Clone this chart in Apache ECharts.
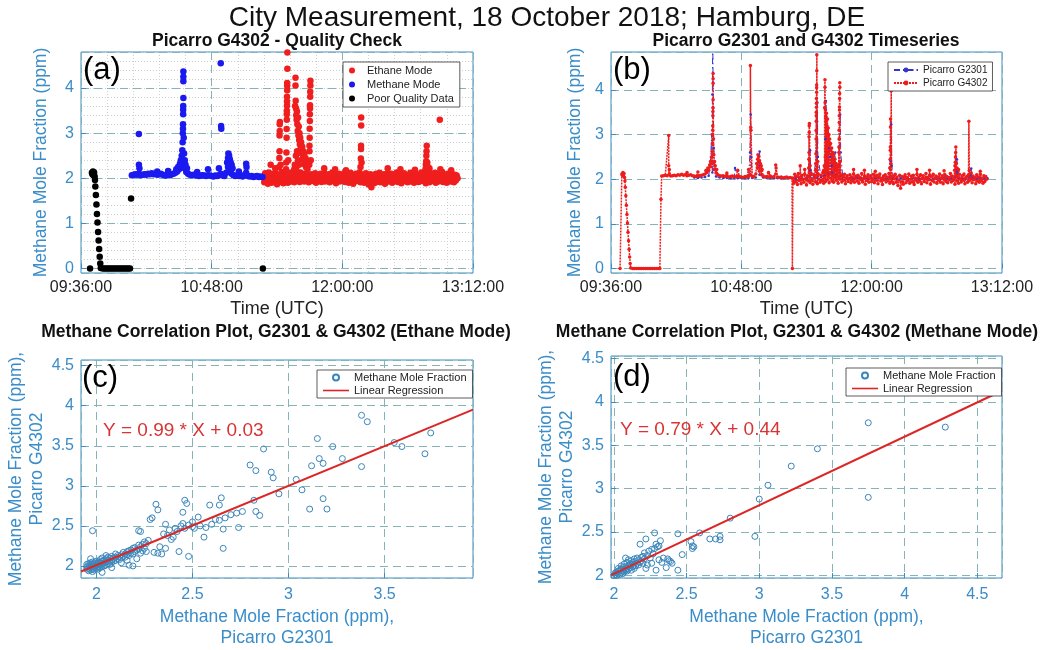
<!DOCTYPE html>
<html><head><meta charset="utf-8">
<script src="https://cdn.jsdelivr.net/npm/echarts@6/dist/echarts.min.js"></script>
<style>html,body{margin:0;padding:0;background:#fff}#c{width:1044px;height:650px}</style>
</head><body><div id="c"></div>
<script>
// ---------- DATA (time = minutes after 00:00 UTC) ----------
const timeTicks = [576, 648, 720, 792]; // 09:36, 10:48, 12:00, 13:12

// (a) poor-quality data points [time, ppm]
const poorPts = [[581.0,0.00],[582.0,2.12],[582.3,2.09],[582.6,2.15],[582.9,2.07],[583.2,2.13],[583.5,2.04],[583.7,1.96],
 [583.9,1.82],[584.2,1.63],[584.5,1.42],[584.8,1.21],[585.1,1.02],[585.4,0.81],[585.7,0.62],[586.0,0.43],[586.3,0.26],
 [586.6,0.11],[586.9,0.01],[588,0],[589,0],[590,0],[591,0],[592,0],[593,0],[594,0],[595,0],[596,0],[597,0],[598,0],
 [599,0],[600,0],[601,0],[602,0],[603,0],[603.6,1.55],[676.2,0.00]];

// (a) methane-mode baseline, one sample per minute from 604
const methaneStart = 604, methaneStep = 1;
const methaneV = [2.07,2.08,2.09,2.08,2.10,2.07,2.08,2.09,2.08,2.10,2.09,2.11,2.09,2.10,2.08,2.09,2.10,2.08,2.07,2.06,
 2.08,2.07,2.09,2.10,2.12,2.15,2.20,2.28,2.35,2.22,2.14,2.10,2.08,2.07,2.08,2.06,2.07,2.05,2.06,2.07,
 2.06,2.05,2.07,2.06,2.05,2.04,2.06,2.05,2.07,2.10,2.06,2.05,2.12,2.25,2.18,2.10,2.07,2.05,2.06,2.05,
 2.07,2.04,2.06,2.12,2.05,2.04,2.05,2.03,2.04,2.05,2.03,2.04,2.03];
const methaneSpikes = [[607.9,2.98],[607.9,2.30],[608.2,2.22],[618,2.15],[624,2.16],[628.5,2.20],[629.5,2.25],[630.5,2.32],
 [631,2.40],[631.5,2.50],[631.8,2.62],[632,2.80],[632.1,3.00],[632.2,3.10],[632.2,3.20],[632.3,3.42],[632.3,3.52],[632.3,3.60],
 [632.4,3.78],[632.4,4.15],[632.4,4.25],[632.4,4.37],[632.6,2.90],[632.8,2.55],[633.2,2.40],[633.6,2.30],[634.4,2.22],
 [640,2.14],[646,2.20],[652,2.22],[653,4.55],[653.2,3.16],[653.3,3.10],[656.5,2.35],[657,2.45],[657.2,2.55],[657.6,2.50],
 [658,2.42],[658.5,2.35],[659,2.30],[659.5,2.22],[663,2.15],[667,2.32],[667.2,2.25]];

// (a) ethane-mode baseline, one sample per half minute from 676.5
const ethaneStart = 676.5, ethaneStep = 0.5;
const ethaneV = [
 2.02,1.91,2.11,1.95,2.06,1.88,2.13,1.97,2.04,1.90,2.09,1.99,1.93,2.12,2.01,1.87,2.08,1.96,
 2.05,1.92,2.14,1.98,1.89,2.10,2.03,1.94,2.07,1.90,2.12,2.00,1.93,2.09,1.97,2.15,1.91,2.04,
 1.95,2.11,1.99,2.06,1.92,2.13,2.02,1.96,2.08,1.93,2.10,2.04,1.98,2.07,1.91,2.05,2.00,2.09,
 1.94,2.06,1.98,2.11,1.90,2.03,2.08,1.95,2.01,2.10,1.92,2.05,1.97,2.12,1.93,2.02,2.07,1.96,
 2.09,1.91,2.04,1.99,2.13,1.94,2.01,2.07,1.89,2.05,1.97,2.10,1.93,2.03,2.08,1.95,2.00,2.11,
 1.92,2.06,1.98,2.09,1.90,2.04,2.12,1.96,2.02,1.88,2.07,1.99,2.10,1.94,2.05,1.97,2.13,1.91,
 2.03,1.95,2.08,1.90,2.01,2.11,1.93,2.05,1.86,1.98,2.09,1.80,1.94,2.06,1.89,2.02,2.10,1.92,
 2.04,1.97,2.12,1.91,2.00,2.07,1.94,2.09,1.88,2.03,1.98,2.11,1.93,2.05,1.96,2.10,1.90,2.02,
 2.08,1.95,2.01,2.13,1.92,2.04,1.99,2.09,1.89,2.06,1.97,2.11,1.94,2.02,2.07,1.91,2.05,1.98,
 2.12,1.93,2.03,2.08,1.90,2.00,2.10,1.95,2.06,1.92,2.04,1.99,2.13,1.94,2.07,1.97,2.02,1.89,
 2.09,1.96,2.05,1.91,2.11,2.00,1.94,2.08,1.98,2.12,1.90,2.03,2.06,1.93,2.10,1.97,2.01,2.14,
 1.92,2.07,1.99,2.04,1.90,2.10,1.96,2.05,1.93,2.11,1.98,2.02,1.91,2.08,1.95,2.06,2.00];
const ethaneSpikes = [[680.5,2.30],[683,2.22],
 [685.2,2.25],[685.3,2.45],[685.4,2.60],[685.4,2.95],[685.5,3.05],[685.5,3.20],[685.6,3.25],[686,2.30],
 [689.0,2.20],[689.1,2.35],[689.2,2.57],[689.3,2.90],[689.3,3.09],[689.4,3.30],[689.4,3.42],[689.4,3.50],[689.5,3.61],
 [689.5,3.70],[689.5,3.81],[689.6,3.95],[689.6,4.05],[689.6,4.11],[689.7,4.43],[689.7,4.79],[690.2,2.40],
 [693.5,2.20],[693.8,2.30],[694.0,3.60],[694.2,4.23],[694.2,4.06],[694.3,3.72],[694.4,2.50],[694.5,3.55],[694.6,3.40],[694.6,2.20],
 [694.8,3.30],[695.0,3.48],[695.0,2.60],[695.2,3.20],[695.4,3.05],[695.6,3.35],[695.6,2.40],[695.8,2.95],[696.0,3.15],
 [696.2,2.85],[696.2,2.30],[696.4,3.00],[696.6,2.75],[696.8,2.90],[697.0,2.65],[697.3,2.80],[697.6,2.55],[697.9,2.70],
 [698.2,2.45],[698.5,2.60],[698.8,2.40],[699.1,2.55],[699.4,2.30],[699.7,2.45],[700.0,2.25],[700.4,2.35],[700.8,2.20],[701.2,2.30],
 [701.8,2.30],[701.9,2.60],[701.9,2.72],[702.0,2.90],[702.0,3.10],[702.1,3.27],[702.1,3.42],[702.2,3.55],[702.2,3.62],
 [702.3,3.81],[702.3,3.92],[702.4,4.06],[702.4,4.16],[702.6,2.40],
 [710,2.22],[716,2.20],[722,2.18],
 [730.0,2.25],[730.2,2.44],[730.3,2.65],[730.3,2.72],[730.4,3.17],[730.4,3.35],[730.6,2.35],
 [745,2.22],[752,2.20],[760,2.19],
 [765.8,2.20],[766.0,2.30],[766.2,2.38],[766.3,2.50],[766.4,2.60],[766.5,2.72],[766.8,2.35],[767.2,2.25],[768,2.22],
 [773.7,3.30],[774,2.20],[780,2.18]];

// (b) extra G4302 point seen only in the time series
const g4302Extra = [[730.8,3.98]];
// (b) Picarro G2301, one sample per 2 minutes from 622, plus peaks
const g2301Start = 622, g2301Step = 2;
const g2301V = [2.04,2.03,2.04,2.05,2.08,2.15,2.06,2.04,2.03,2.03,2.02,2.03,2.02,2.03,2.02,2.03,2.03,2.04,2.10,2.04,
 2.03,2.02,2.03,2.02,2.02,2.02,2.03,2.02,
 2.02,2.03,2.01,2.02,2.05,2.04,2.03,2.05,2.08,2.12,2.15,2.10,2.06,2.04,2.02,2.03,2.01,2.02,2.03,2.02,
 2.01,2.02,2.03,2.02,2.01,2.02,2.03,2.02,2.01,2.02,2.00,2.01,2.02,2.01,2.02,2.01,2.02,2.00,2.01,2.02,
 2.01,2.02,2.01,2.02,2.04,2.02,2.01,2.02,2.03,2.02,2.01,2.02,2.01,2.02];
const g2301Spikes = [[631,2.40],[631.6,3.00],[632.0,3.90],[632.2,5.30],[632.5,3.60],[632.8,2.70],[633.3,2.30],
 [644.5,2.25],[652.8,2.60],[653.2,3.45],[653.5,2.50],[657.8,2.40],[658.1,2.62],[658.6,2.30],
 [685.8,2.30],[686.0,2.65],[686.3,2.20],[689.6,2.60],[689.8,3.30],[690.0,3.72],[690.3,2.50],
 [694.4,2.90],[694.7,3.75],[695.0,3.40],[695.4,3.20],[695.9,2.95],[696.5,2.70],[697.2,2.50],[698,2.30],
 [699.9,2.60],[702.2,2.90],[702.6,3.45],[702.9,2.60],[730.6,2.40],[730.8,3.23],[731.1,2.30],
 [766.8,2.20],[767.1,2.45],[767.4,2.15],[774.8,2.10],[775.0,2.24],[775.3,2.05]];

// (c) ethane-mode correlation: G2301 (x) vs G4302 (y)
const cG2301 = [1.95,1.95,1.95,1.96,1.96,1.96,1.96,1.97,1.97,1.97,1.97,1.98,1.98,1.98,1.98,1.98,1.99,1.99,1.99,1.99,
 2.00,2.00,2.00,2.00,2.01,2.01,2.01,2.01,2.02,2.02,2.02,2.02,2.03,2.03,2.03,2.03,2.04,2.04,2.04,2.05,2.05,2.05,2.05,
 2.06,2.06,2.06,2.07,2.07,2.07,2.08,2.08,2.08,2.09,2.09,2.10,2.10,2.10,2.11,2.11,2.12,2.12,2.13,2.13,2.14,2.14,2.15,2.15,
 2.16,2.16,2.17,2.17,2.18,2.18,2.19,2.19,2.20,2.20,2.21,2.21,2.22,2.22,2.23,2.23,2.24,2.24,2.25,2.25,2.26,2.26,
 2.03,1.97,2.17,2.19,2.13,2.16,2.08,1.98,
 2.22,2.23,2.27,2.28,2.29,2.30,2.31,2.32,2.32,2.33,2.34,2.35,2.36,2.36,2.37,2.38,2.39,2.40,2.41,2.42,2.43,2.44,2.45,2.45,
 2.46,2.46,2.47,2.48,2.48,2.50,2.50,2.51,2.53,2.54,2.56,2.57,2.59,2.60,2.62,2.64,2.64,2.65,2.66,2.66,2.67,2.70,2.73,2.74,2.76,
 2.80,2.82,2.83,2.83,2.85,2.87,2.91,2.92,2.95,3.04,3.07,3.11,3.12,3.15,3.16,3.18,3.18,3.20,3.23,3.28,3.38,3.38,3.41,
 3.55,3.59,3.71,3.74];
const cG4302 = [1.96,1.99,2.02,1.94,1.97,2.00,2.03,1.95,1.98,2.01,2.04,1.93,1.96,1.99,2.02,2.05,1.95,1.98,2.01,2.04,
 1.97,2.00,2.03,2.06,1.96,1.99,2.02,2.05,1.98,2.01,2.04,2.08,1.99,2.02,2.06,2.10,2.00,2.04,2.07,2.01,2.05,2.09,2.13,
 2.03,2.07,2.11,2.02,2.06,2.10,2.05,2.08,2.12,2.06,2.10,2.07,2.11,2.15,2.09,2.13,2.08,2.12,2.10,2.14,2.12,2.17,2.11,2.15,
 2.14,2.18,2.13,2.19,2.16,2.20,2.15,2.22,2.18,2.23,2.20,2.09,2.21,2.26,2.24,2.16,2.27,2.19,2.22,2.30,2.28,2.18,
 1.92,2.09,2.01,2.00,2.04,2.07,1.98,2.44,
 2.44,2.43,2.32,2.58,2.60,2.17,2.77,2.70,2.16,2.24,2.15,2.40,2.22,2.52,2.38,2.45,2.33,2.36,2.47,2.43,2.18,2.50,2.67,2.53,
 2.82,2.47,2.78,2.12,2.51,2.49,2.55,2.47,2.61,2.50,2.36,2.48,2.76,2.52,2.58,2.76,2.57,2.85,2.22,2.46,2.60,2.64,2.66,2.48,2.68,
 3.26,2.82,3.19,2.68,2.63,3.46,3.17,3.10,2.90,3.08,2.95,2.71,3.25,3.59,3.34,3.28,2.84,2.71,3.49,3.34,3.24,3.88,3.80,
 3.54,3.49,3.40,3.66];

// (d) methane-mode correlation: G2301 (x) vs G4302 (y)
const dG2301 = [2.00,2.01,2.01,2.02,2.02,2.03,2.03,2.03,2.04,2.04,2.05,2.05,2.05,2.06,2.06,2.06,2.07,2.07,2.07,2.08,2.08,2.08,
 2.09,2.09,2.09,2.10,2.10,2.10,2.11,2.11,2.12,2.12,2.12,2.13,2.13,2.14,2.14,2.14,2.15,2.15,2.16,2.16,2.17,2.17,2.18,2.18,
 2.19,2.19,2.20,2.20,2.21,2.21,2.22,2.22,2.23,2.23,2.24,2.25,2.26,2.26,2.27,2.28,2.28,2.29,2.29,2.30,2.31,2.31,2.32,2.33,
 2.34,2.36,2.37,2.38,2.39,2.40,2.44,2.44,2.47,
 2.53,2.54,2.54,2.55,2.59,2.66,2.70,2.73,2.73,2.80,2.97,3.00,3.06,3.22,3.40,3.75,3.75,4.28];
const dG4302 = [2.00,2.01,2.03,2.00,2.04,2.02,2.05,2.08,2.01,2.06,2.03,2.07,2.11,2.02,2.05,2.09,2.04,2.07,2.13,2.06,2.10,2.20,
 2.05,2.08,2.15,2.07,2.11,2.18,2.09,2.13,2.06,2.12,2.17,2.10,2.15,2.08,2.13,2.19,2.11,2.16,2.14,2.20,2.12,2.18,2.15,2.36,
 2.17,2.21,2.14,2.22,2.19,2.26,2.42,2.08,2.23,2.12,2.28,2.20,2.30,2.14,2.25,2.49,2.31,2.06,2.36,2.33,2.18,2.34,2.40,2.15,
 2.20,2.09,2.19,2.17,2.16,2.14,2.06,2.48,2.24,
 2.39,2.34,2.31,2.33,2.49,2.42,2.42,2.45,2.41,2.66,2.45,2.88,3.04,3.26,3.46,3.76,2.90,3.71];

// linear regressions [slope, intercept]
const cFit = [0.99, 0.03];
const dFit = [0.79, 0.44];

// axis ranges
const aY = [-0.1, 4.8], bY = [-0.1, 4.85];
const cX = [1.92, 3.96], cY = [1.85, 4.57];
const dX = [1.98, 4.67], dY = [1.97, 4.53];

// ---------- BUILD ----------
const methanePts = methaneV.map((v,i)=>[methaneStart+i*methaneStep, v]).concat(methaneSpikes);
const ethanePts = ethaneV.map((v,i)=>[ethaneStart+i*ethaneStep, v]).concat(ethaneSpikes);
const byT = (a,b)=>a[0]-b[0];
const g4302Line = [].concat(poorPts, methanePts, ethanePts, g4302Extra).sort(byT);
const g2301Line = g2301V.map((v,i)=>[g2301Start+i*g2301Step, v]).concat(g2301Spikes).sort(byT);
const cPts = cG2301.map((x,i)=>[x, cG4302[i]]);
const dPts = dG2301.map((x,i)=>[x, dG4302[i]]);
const fitLine = (fit, xr)=>xr.map(x=>[x, fit[0]*x+fit[1]]);
const eq = fit => 'Y = ' + fit[0].toFixed(2) + ' * X + ' + fit[1].toFixed(2);

const FONT = "'Liberation Sans', Arial, Helvetica, sans-serif";
const AX = '#3a8dc8';
const GRIDC = '#86b4b4';
const pad2 = n => String(n).padStart(2,'0');
const fmtTime = v => { const h = Math.floor(v/60), m = Math.round(v-h*60); return pad2(h)+':'+pad2(m)+':00'; };

function timeAxis(gi, minor) {
  const o = {type:'value', gridIndex:gi, min:timeTicks[0], max:timeTicks[timeTicks.length-1],
    interval: timeTicks[1]-timeTicks[0],
    axisLine:{show:false}, axisTick:{show:true, inside:true, length:5, lineStyle:{color:AX}},
    axisLabel:{color:'#222', fontSize:16, fontFamily:FONT, margin:7, formatter:fmtTime},
    splitLine:{show:true, lineStyle:{color:GRIDC, type:[8,5], width:1}},
    name:'Time (UTC)', nameLocation:'middle', nameGap:27,
    nameTextStyle:{color:'#222', fontSize:18, fontFamily:FONT}};
  if (minor) {
    o.minorTick = {show:true, splitNumber:5, length:0};
    o.minorSplitLine = {show:true, lineStyle:{color:'#cfcfcf', type:[1,2], width:1}};
  }
  return o;
}
function numAxis(gi, range, step, extra) {
  return Object.assign({type:'value', gridIndex:gi, min:range[0], max:range[1], minInterval:step, maxInterval:step,
    axisLine:{show:false}, axisTick:{show:true, inside:true, length:5, lineStyle:{color:AX}},
    axisLabel:{color:AX, fontSize:16, fontFamily:FONT, margin:7, showMinLabel:false, showMaxLabel:false},
    splitLine:{show:true, lineStyle:{color:GRIDC, type:[8,5], width:1}},
    nameLocation:'middle', nameTextStyle:{color:AX, fontSize:17.5, fontFamily:FONT, lineHeight:21}}, extra||{});
}

const gridBox = {show:true, borderColor:AX, borderWidth:1, containLabel:false};
const legendBase = {orient:'vertical', backgroundColor:'#fff', borderColor:'#333', borderWidth:0.8,
  textStyle:{color:'#222', fontSize:11, fontFamily:FONT}, itemGap:3, selectedMode:false};
const lineIcon = 'path://M0,0 M26,6 M0,2.2 H26 V3.8 H0 Z';
const xLab = {color:AX, fontSize:16, fontFamily:FONT, margin:9, showMinLabel:false, showMaxLabel:false};

const option = {
  animation:false,
  backgroundColor:'#fff',
  grid:[
    Object.assign({left:81, top:52, width:392, height:221}, gridBox),
    Object.assign({left:611, top:52, width:391, height:221}, gridBox),
    Object.assign({left:81, top:360, width:392, height:219}, gridBox),
    Object.assign({left:611, top:356, width:391, height:223}, gridBox)
  ],
  xAxis:[
    timeAxis(0, true),
    timeAxis(1, false),
    numAxis(2, cX, 0.5, {name:'Methane Mole Fraction (ppm),\nPicarro G2301', nameGap:29, axisLabel:xLab}),
    numAxis(3, dX, 0.5, {name:'Methane Mole Fraction (ppm),\nPicarro G2301', nameGap:29, axisLabel:xLab})
  ],
  yAxis:[
    {type:'value', gridIndex:0, min:aY[0], max:aY[1], minInterval:0.2, maxInterval:0.2, position:'right', z:0,
      axisLine:{show:false}, axisTick:{show:false}, axisLabel:{show:false},
      splitLine:{show:true, lineStyle:{color:'#cfcfcf', type:[1,2], width:1}}},
    numAxis(0, aY, 1, {name:'Methane Mole Fraction (ppm)', nameGap:29, z:1}),
    numAxis(1, bY, 1, {name:'Methane Mole Fraction (ppm)', nameGap:25}),
    numAxis(2, cY, 0.5, {name:'Methane Mole Fraction (ppm),\nPicarro G4302', nameGap:25}),
    numAxis(3, dY, 0.5, {name:'Methane Mole Fraction (ppm),\nPicarro G4302', nameGap:26})
  ],
  legend:[
    Object.assign({}, legendBase, {left:343, top:62, padding:[3,6,3,6], itemWidth:20, itemHeight:6,
      data:['Ethane Mode','Methane Mode','Poor Quality Data']}),
    Object.assign({}, legendBase, {left:888, top:62, padding:[3,5,3,5], itemWidth:24, itemHeight:6,
      textStyle:{color:'#222', fontSize:10, fontFamily:FONT}, data:['Picarro G2301','Picarro G4302']}),
    Object.assign({}, legendBase, {left:317, top:370, padding:[2,6,2,6], itemWidth:26, itemHeight:6, itemGap:2,
      data:[{name:'Methane Mole Fraction'},{name:'Linear Regression', icon:lineIcon}]}),
    Object.assign({}, legendBase, {left:846, top:368, padding:[2,6,2,6], itemWidth:26, itemHeight:6, itemGap:2,
      data:[{name:'Methane Mole Fraction'},{name:'Linear Regression', icon:lineIcon}]})
  ],
  series:[
    {name:'Ethane Mode', type:'scatter', xAxisIndex:0, yAxisIndex:1, data:ethanePts, symbolSize:6.5,
      itemStyle:{color:'#f01e1e', opacity:1}},
    {name:'Methane Mode', type:'scatter', xAxisIndex:0, yAxisIndex:1, data:methanePts, symbolSize:6.5,
      itemStyle:{color:'#1a1af0', opacity:1}},
    {name:'Poor Quality Data', type:'scatter', xAxisIndex:0, yAxisIndex:1, data:poorPts, symbolSize:6.5,
      itemStyle:{color:'#000', opacity:1}},
    {name:'Picarro G2301', type:'line', xAxisIndex:1, yAxisIndex:2, data:g2301Line, showAllSymbol:true,
      symbol:'circle', symbolSize:2.5, itemStyle:{color:'#3535cc'},
      lineStyle:{color:'#3535cc', width:1, type:[6,3,1.5,3]}},
    {name:'Picarro G4302', type:'line', xAxisIndex:1, yAxisIndex:2, data:g4302Line, showAllSymbol:true,
      symbol:'circle', symbolSize:3.5, itemStyle:{color:'#ee1c1c'},
      lineStyle:{color:'#ee1c1c', width:1.5, type:[2,1]}},
    {name:'Methane Mole Fraction', type:'scatter', xAxisIndex:2, yAxisIndex:3, data:cPts, symbol:'circle', symbolSize:6,
      itemStyle:{color:'rgba(255,255,255,0)', borderColor:'#3a86bb', borderWidth:1, opacity:1}},
    {name:'Linear Regression', type:'line', xAxisIndex:2, yAxisIndex:3, data:fitLine(cFit, cX), symbol:'none',
      lineStyle:{color:'#dc2626', width:2}, itemStyle:{color:'#dc2626'}},
    {name:'Methane Mole Fraction', type:'scatter', xAxisIndex:3, yAxisIndex:4, data:dPts, symbol:'circle', symbolSize:6,
      itemStyle:{color:'rgba(255,255,255,0)', borderColor:'#3a86bb', borderWidth:1, opacity:1}},
    {name:'Linear Regression', type:'line', xAxisIndex:3, yAxisIndex:4, data:fitLine(dFit, dX), symbol:'none',
      lineStyle:{color:'#dc2626', width:2}, itemStyle:{color:'#dc2626'}}
  ],
  graphic:[
    {type:'text', x:547, y:18, style:{text:'City Measurement, 18 October 2018; Hamburg, DE', fill:'#111',
      font:'28px '+FONT, textAlign:'center', textVerticalAlign:'middle'}},
    {type:'text', x:277, y:41, style:{text:'Picarro G4302 - Quality Check', fill:'#111',
      font:'bold 17.5px '+FONT, textAlign:'center', textVerticalAlign:'middle'}},
    {type:'text', x:806, y:41, style:{text:'Picarro G2301 and G4302 Timeseries', fill:'#111',
      font:'bold 17.5px '+FONT, textAlign:'center', textVerticalAlign:'middle'}},
    {type:'text', x:276, y:332, style:{text:'Methane Correlation Plot, G2301 & G4302 (Ethane Mode)', fill:'#111',
      font:'bold 17.5px '+FONT, textAlign:'center', textVerticalAlign:'middle'}},
    {type:'text', x:797, y:332, style:{text:'Methane Correlation Plot, G2301 & G4302 (Methane Mode)', fill:'#111',
      font:'bold 17.5px '+FONT, textAlign:'center', textVerticalAlign:'middle'}},
    {type:'text', x:83, y:70, z:10, style:{text:'(a)', fill:'#000', font:'31px '+FONT, textVerticalAlign:'middle'}},
    {type:'text', x:613, y:70, z:10, style:{text:'(b)', fill:'#000', font:'31px '+FONT, textVerticalAlign:'middle'}},
    {type:'text', x:82, y:378, z:10, style:{text:'(c)', fill:'#000', font:'31px '+FONT, textVerticalAlign:'middle'}},
    {type:'text', x:613, y:377, z:10, style:{text:'(d)', fill:'#000', font:'31px '+FONT, textVerticalAlign:'middle'}},
    {type:'text', x:103, y:431, z:10, style:{text:eq(cFit), fill:'#d83434', font:'19px '+FONT, textVerticalAlign:'middle'}},
    {type:'text', x:620, y:430, z:10, style:{text:eq(dFit), fill:'#d83434', font:'19px '+FONT, textVerticalAlign:'middle'}}
  ]
};
echarts.init(document.getElementById('c'), null, {renderer:'canvas'}).setOption(option);
</script></body></html>
